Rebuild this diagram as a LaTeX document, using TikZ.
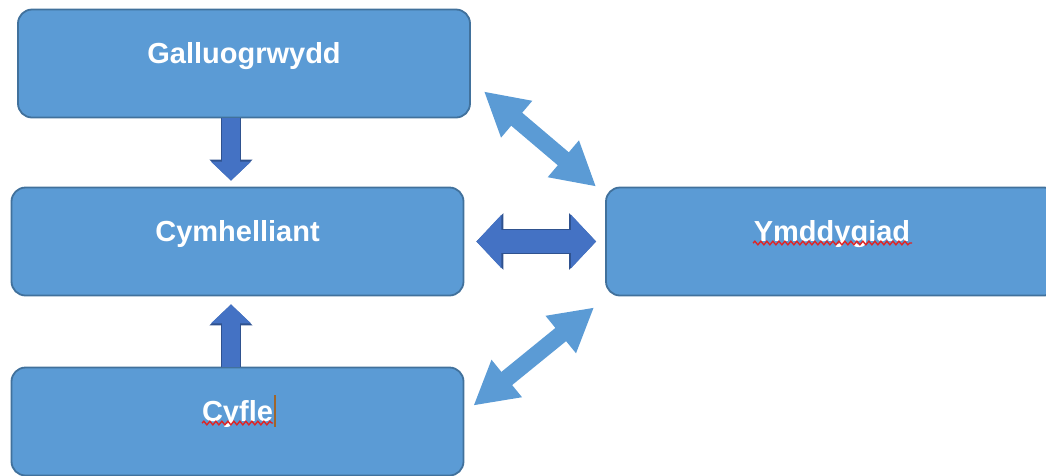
\documentclass[tikz,border=0pt]{standalone}
\usepackage{fontspec}
\setmainfont{Liberation Sans}
\usetikzlibrary{arrows.meta,decorations.pathmorphing}
\definecolor{boxblue}{HTML}{5B9BD5}
\definecolor{boxedge}{HTML}{41719C}
\definecolor{arrowblue}{HTML}{4472C4}
\definecolor{arrowedge}{HTML}{2F528F}
\definecolor{wavered}{HTML}{E02424}
\definecolor{caretbrown}{HTML}{A0652A}

\begin{document}
\begin{tikzpicture}[x=1pt,y=-1pt,
  box/.style={draw=boxedge, line width=1.8pt, fill=boxblue, rounded corners=14pt,
    minimum width=452pt, minimum height=108pt, inner sep=0pt, text=white,
    font=\fontsize{29}{35}\selectfont\bfseries, text height=21pt, text depth=22pt},
  darkarrow/.style={arrowblue, line width=18pt, -{Triangle[length=19pt,width=39pt]},
    preaction={draw=arrowedge, line width=20pt, -{Triangle[length=21pt,width=42pt]}}},
  wide arrow/.style={arrowblue, line width=23pt,
    {Triangle[length=25pt,width=52pt]}-{Triangle[length=25pt,width=52pt]},
    preaction={draw=arrowedge, line width=25pt,
      {Triangle[length=27pt,width=55pt]}-{Triangle[length=27pt,width=55pt]}}},
  lightarrow/.style={boxblue, line width=17pt,
    {Triangle[length=43pt,width=45pt]}-{Triangle[length=43pt,width=45pt]}},
  squiggle/.style={draw=wavered, line width=1.4pt, decorate,
    decoration={snake, amplitude=1.8pt, segment length=6pt}}]

      \useasboundingbox (0,0) rectangle (1046,475);
      \clip (0,0) rectangle (1046,475);

	\node[box] (gal) at (244,63.5) {Galluogrwydd};
	\node[box] (cym) at (237.5,241.5) {Cymhelliant};
	\node[box] (cyf) at (237.5,421.5) {Cyfle};
	\node[box] (ymd) at (832,241.5) {Ymddygiad};

      \draw[darkarrow] ([xshift=-13pt]gal.south) -- ([xshift=-6.5pt]cym.north) [shorten >=6pt];
      \draw[darkarrow] ([xshift=-6.5pt]cyf.north) -- ([xshift=-6.5pt]cym.south) [shorten >=8pt];
      \draw[wide arrow, shorten <=12pt, shorten >=9pt] (cym.east) -- (ymd.west);

      \draw[lightarrow] ([shift={(13pt,27pt)}]gal.south east) -- ([xshift=-9pt]ymd.north west);
      \draw[lightarrow] ([shift={(-11pt,-11pt)}]ymd.south west) -- ([shift={(9pt,-39pt)}]cyf.north east);

      \draw[squiggle] (753,243) -- (912,243);
      \draw[squiggle] (202,423) -- (273,423);
      \draw[caretbrown, line width=1.4pt] (275,395) -- (275,427);
    \end{tikzpicture}
\end{document}
